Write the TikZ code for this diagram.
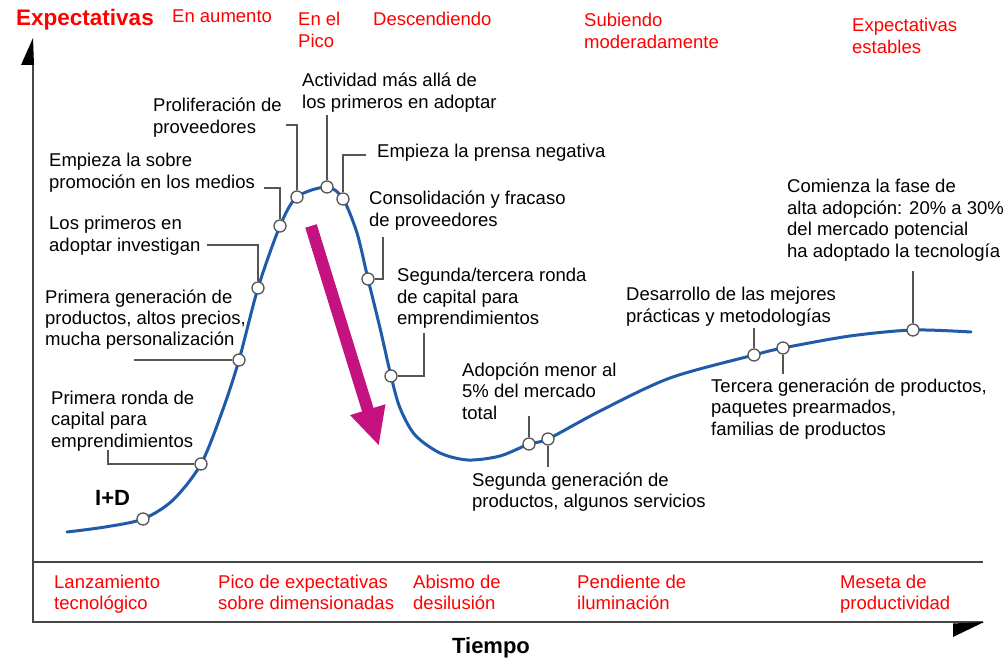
\documentclass[tikz,border=0pt]{standalone}
\usepackage{fontspec}
\setmainfont{Liberation Sans}
\usetikzlibrary{arrows.meta}
\definecolor{curveblue}{RGB}{31,91,168}
\definecolor{leadgray}{RGB}{85,85,85}
\definecolor{axisgray}{RGB}{70,70,70}
\definecolor{hred}{RGB}{255,0,0}
\definecolor{hmag}{RGB}{196,18,128}
\newcommand{\mylines}[1]{\begin{tabular}[t]{@{}l@{}}#1\end{tabular}}
\begin{document}
\begin{tikzpicture}[x=1pt,y=-1pt,
  lbl/.style={inner sep=0pt,anchor=base west,font=\fontsize{18.5}{21.5}\selectfont},
  rlbl/.style={lbl,text=hred},
  blbl/.style={inner sep=0pt,anchor=base west,font=\fontsize{22}{26}\selectfont\bfseries},
  dot/.style={circle,draw=leadgray,fill=white,line width=1.3pt,minimum size=12pt,inner sep=0pt},
  leader/.style={draw=leadgray,line width=1.4pt},
  axisline/.style={draw=axisgray,line width=2.4pt},
  hypecurve/.style={draw=curveblue,line width=3pt,line cap=round}]
\useasboundingbox (0,0) rectangle (1007,663);

% axes
\coordinate (yb) at (33,623);
\coordinate (yt) at (33,62);
\coordinate (xl1) at (33,562);
\coordinate (xr1) at (983,562);
\coordinate (xl2) at (32,622);
\coordinate (xr2) at (983,622);
\draw[axisline] (yb) -- (yt);
\fill[black] (33,38) -- (21,65) -- (34,65) -- cycle;
\draw[axisline,line width=2pt] (xl1) -- (xr1);
\draw[axisline,line width=2pt] (xl2) -- (xr2);
\fill[black] (984,622) -- (953,637) -- (953,623.5) -- cycle;

% hype curve
\draw[hypecurve] plot[smooth,tension=0.5] coordinates {
 (67,532) (105,527) (143,519) (173,500) (201,464) (222,412) (239,360) (258,288)
 (280,226) (297,197) (327,187) (343,199) (357,233) (368,279) (380,328) (391,376)
 (400,408) (415,435) (440,453) (468,460) (500,456) (529,444) (548,439)
 (600,411) (670,378) (754,355) (783,348) (850,336) (913,330) (971,332)};

% magenta arrow
\coordinate (aT) at (311,226);
\coordinate (aH) at (379,446);
\draw[draw=hmag,line width=12pt,-{Triangle[length=38pt,width=34pt]}] (aT) -- (aH);

% leader ends
\coordinate (e2) at (108,450);
\coordinate (e3) at (134,360);
\coordinate (e4) at (207,245);
\coordinate (e5) at (264,188);
\coordinate (e6) at (286,125);
\coordinate (e7) at (327,115);
\coordinate (e8) at (366,155);
\coordinate (e9) at (383,237);
\coordinate (e10) at (424,333);
\coordinate (e11) at (529,416);
\coordinate (e12) at (548,467);
\coordinate (e13) at (754,328);
\coordinate (e14) at (783,374);
\coordinate (e15) at (913,271);

% points on the curve
\node[dot] (c1) at (143,519) {};
\node[dot] (c2) at (201,464) {};
\node[dot] (c3) at (239,360) {};
\node[dot] (c4) at (258,288) {};
\node[dot] (c5) at (280,226) {};
\node[dot] (c6) at (297,197) {};
\node[dot] (c7) at (327,187) {};
\node[dot] (c8) at (343,199) {};
\node[dot] (c9) at (368,279) {};
\node[dot] (c10) at (391,376) {};
\node[dot] (c11) at (529,444) {};
\node[dot] (c12) at (548,439) {};
\node[dot] (c13) at (754,355) {};
\node[dot] (c14) at (783,348) {};
\node[dot] (c15) at (913,330) {};

\draw[leader] (e2) |- (c2);
\draw[leader] (e3) -- (c3);
\draw[leader] (e4) -| (c4);
\draw[leader] (e5) -| (c5);
\draw[leader] (e6) -| (c6);
\draw[leader] (e7) -- (c7);
\draw[leader] (e8) -| (c8);
\draw[leader] (e9) |- (c9);
\draw[leader] (e10) |- (c10);
\draw[leader] (e11) -- (c11);
\draw[leader] (c12) -- (e12);
\draw[leader] (e13) -- (c13);
\draw[leader] (c14) -- (e14);
\draw[leader] (e15) -- (c15);

% top red labels
\node[blbl,text=hred,font=\fontsize{22.5}{26}\selectfont\bfseries] (tExp) at (16,26) {Expectativas};
\node[rlbl] (tAum) at (172,23) {En aumento};
\node[rlbl] (tPico) at (298,26) {\mylines{En el\\Pico}};
\node[rlbl] (tDesc) at (373,26) {Descendiendo};
\node[rlbl] (tSub) at (584,27) {\mylines{Subiendo\\moderadamente}};
\node[rlbl] (tEst) at (852,32) {\mylines{Expectativas\\estables}};

% black labels
\node[lbl] (l7) at (302,87) {\mylines{Actividad más allá de\\los primeros en adoptar}};
\node[lbl] (l6) at (153,112) {\mylines{Proliferación de\\proveedores}};
\node[lbl] (l5) at (49,167) {\mylines{Empieza la sobre\\promoción en los medios}};
\node[lbl] (l4) at (49,230) {\mylines{Los primeros en\\adoptar investigan}};
\node[lbl] (l8) at (377,158) {Empieza la prensa negativa};
\node[lbl] (l9) at (369,205) {\mylines{Consolidación y fracaso\\de proveedores}};
\node[lbl] (l10) at (397,282) {\mylines{Segunda/tercera ronda\\de capital para\\emprendimientos}};
\node[lbl] (l3) at (45,303) {\mylines{Primera generación de\\productos, altos precios,\\mucha personalización}};
\node[lbl] (l2) at (51,404) {\mylines{Primera ronda de\\capital para\\emprendimientos}};
\node[lbl] (l11) at (462,376) {\mylines{Adopción menor al\\5\% del mercado\\total}};
\node[lbl] (l12) at (472,486) {\mylines{Segunda generación de\\productos, algunos servicios}};
\node[lbl] (l13) at (626,301) {\mylines{Desarrollo de las mejores\\prácticas y metodologías}};
\node[lbl] (l14) at (711,392) {\mylines{Tercera generación de productos,\\paquetes prearmados,\\familias de productos}};
\node[lbl] (l15) at (787,193) {\mylines{Comienza la fase de\\alta adopción: 20\% a 30\%\\del mercado potencial\\ha adoptado la tecnología}};
\node[blbl] (lID) at (95,505) {I+D};

% bottom red labels
\node[rlbl] (b1) at (54,588) {\mylines{Lanzamiento\\tecnológico}};
\node[rlbl] (b2) at (218,588) {\mylines{Pico de expectativas\\sobre dimensionadas}};
\node[rlbl] (b3) at (413,588) {\mylines{Abismo de\\desilusión}};
\node[rlbl] (b4) at (577,588) {\mylines{Pendiente de\\iluminación}};
\node[rlbl] (b5) at (840,588) {\mylines{Meseta de\\productividad}};

\node[blbl,anchor=base,font=\fontsize{22}{26}\selectfont\bfseries] (tiempo) at (491,653) {Tiempo};
\end{tikzpicture}
\end{document}
